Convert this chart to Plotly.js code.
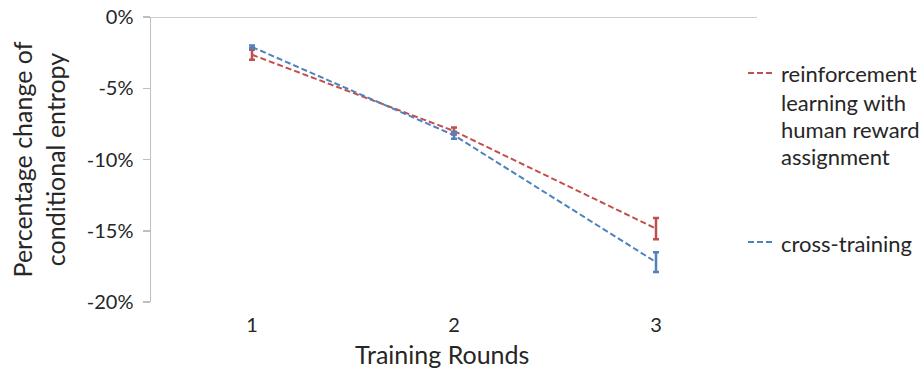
<!DOCTYPE html>
<html>
<head>
<meta charset="utf-8">
<script src="https://cdn.plot.ly/plotly-3.0.1.min.js"></script>
<style>html,body{margin:0;padding:0;background:#fff;}#chart{width:922px;height:369px;}</style>
</head>
<body>
<div id="chart"></div>
<script>
var rounds = [1, 2, 3];
var tickLabels = ["1", "2", "3"];
var rlName = "reinforcement learning with human reward assignment";
var rlNameLines = ["reinforcement", "learning with", "human reward", "assignment"];
var ctName = "cross-training";
var rlValues = [-2.65, -8.0, -14.85];
var rlErrors = [0.35, 0.25, 0.75];
var ctValues = [-2.1, -8.3, -17.2];
var ctErrors = [0.1, 0.25, 0.7];
var yTicks = [0, -5, -10, -15, -20];
var yTickLabels = ["0%", "-5%", "-10%", "-15%", "-20%"];

var FONT = "Lato, 'Open Sans', sans-serif";
var TXT = "#262626";
var RED = "#C0504D", BLUE = "#4F81BD";

var traces = [
  {
    x: rounds, y: rlValues, type: "scatter", mode: "lines", name: rlName,
    line: {color: RED, width: 2, dash: "6px,3px"},
    error_y: {type: "data", array: rlErrors, visible: true, color: RED, thickness: 2.5, width: 3}
  },
  {
    x: rounds, y: ctValues, type: "scatter", mode: "lines", name: ctName,
    line: {color: BLUE, width: 2, dash: "6px,3px"},
    error_y: {type: "data", array: ctErrors, visible: true, color: BLUE, thickness: 2.5, width: 3}
  }
];

// plot area in pixels: x 151..757, y 17..302
var PL = 151, PW = 606, PT = 17, PH = 285;
function px(x) { return (x - PL) / PW; }
function py(y) { return (PT + PH - y) / PH; }

var annotations = [];
var rlLineY = [74, 102, 129, 156];
rlNameLines.forEach(function (t, i) {
  annotations.push({xref: "paper", yref: "paper", x: px(779), y: py(rlLineY[i]), xanchor: "left", yanchor: "middle",
    text: t, showarrow: false, font: {family: FONT, size: 22, color: TXT}});
});
annotations.push({xref: "paper", yref: "paper", x: px(779), y: py(243), xanchor: "left", yanchor: "middle",
  text: ctName, showarrow: false, font: {family: FONT, size: 22, color: TXT}});
annotations.push({xref: "paper", yref: "paper", x: px(442), y: py(354), xanchor: "center", yanchor: "middle",
  text: "Training Rounds", showarrow: false, font: {family: FONT, size: 25, color: TXT}});

var layout = {
  width: 922, height: 369,
  margin: {l: PL, r: 922 - PL - PW, t: PT, b: 369 - PT - PH},
  paper_bgcolor: "#fff", plot_bgcolor: "#fff",
  font: {family: FONT, color: TXT},
  showlegend: false,
  xaxis: {
    range: [0.5, 3.5], tickvals: rounds, ticktext: tickLabels,
    showgrid: false, zeroline: false, showline: false, ticks: "",
    tickfont: {family: FONT, size: 20, color: TXT},
    ticklabelstandoff: 9
  },
  yaxis: {
    range: [-20, 0], tickvals: yTicks, ticktext: yTickLabels,
    showgrid: false, zeroline: false, showline: true, linecolor: "#BFBFBF", linewidth: 1.5,
    ticks: "outside", ticklen: 7, tickcolor: "#BFBFBF", tickwidth: 1.5,
    tickfont: {family: FONT, size: 20, color: TXT},
    ticklabelstandoff: 5,
    title: {text: "Percentage change of<br>conditional entropy", font: {family: FONT, size: 25, color: TXT}, standoff: 14}
  },
  shapes: [
    {type: "line", xref: "paper", yref: "y", x0: 0, x1: 1, y0: 0, y1: 0, line: {color: "#BFBFBF", width: 1.5}, layer: "below"},
    {type: "line", xref: "paper", yref: "paper", x0: px(748), x1: px(773), y0: py(73), y1: py(73), line: {color: RED, width: 2, dash: "6px,3px"}},
    {type: "line", xref: "paper", yref: "paper", x0: px(748), x1: px(773), y0: py(242), y1: py(242), line: {color: BLUE, width: 2, dash: "6px,3px"}}
  ],
  annotations: annotations
};

Plotly.newPlot("chart", traces, layout, {displayModeBar: false, staticPlot: true});
</script>
</body>
</html>
